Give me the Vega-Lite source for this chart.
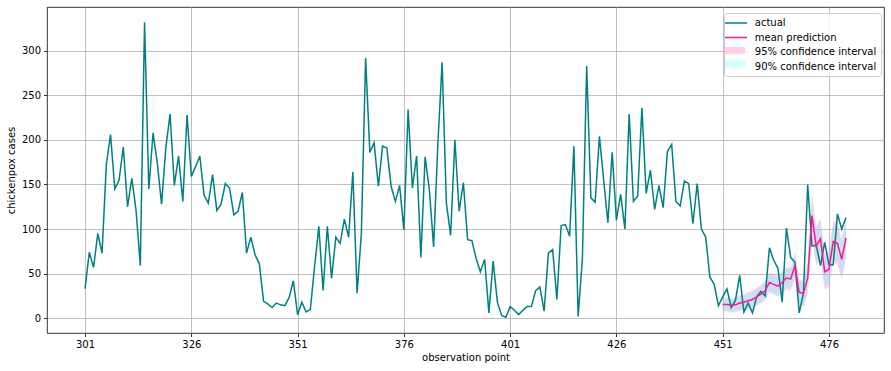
{
  "$schema": "https://vega.github.io/schema/vega-lite/v6.json",
  "autosize": {"type": "none"},
  "padding": {"left": 47, "top": 7, "right": 7, "bottom": 38},
  "width": 837,
  "height": 326,
  "background": "white",
  "datasets": {
    "actual": [
      {"t":301,"v":33},{"t":302,"v":74},{"t":303,"v":57},{"t":304,"v":95},{"t":305,"v":73},{"t":306,"v":172},{"t":307,"v":206},{"t":308,"v":145},{"t":309,"v":155},{"t":310,"v":192},
      {"t":311,"v":125},{"t":312,"v":157},{"t":313,"v":121},{"t":314,"v":59},{"t":315,"v":332},{"t":316,"v":145},{"t":317,"v":208},{"t":318,"v":174},{"t":319,"v":128},{"t":320,"v":191},
      {"t":321,"v":229},{"t":322,"v":149},{"t":323,"v":182},{"t":324,"v":131},{"t":325,"v":228},{"t":326,"v":159},{"t":327,"v":170},{"t":328,"v":182},{"t":329,"v":138},{"t":330,"v":129},
      {"t":331,"v":161},{"t":332,"v":121},{"t":333,"v":128},{"t":334,"v":151},{"t":335,"v":146},{"t":336,"v":116},{"t":337,"v":120},{"t":338,"v":141},{"t":339,"v":73},{"t":340,"v":91},
      {"t":341,"v":71},{"t":342,"v":61},{"t":343,"v":19},{"t":344,"v":16},{"t":345,"v":12},{"t":346,"v":17},{"t":347,"v":15},{"t":348,"v":14},{"t":349,"v":23},{"t":350,"v":42},
      {"t":351,"v":4},{"t":352,"v":18},{"t":353,"v":7},{"t":354,"v":10},{"t":355,"v":58},{"t":356,"v":103},{"t":357,"v":31},{"t":358,"v":103},{"t":359,"v":45},{"t":360,"v":91},
      {"t":361,"v":84},{"t":362,"v":111},{"t":363,"v":91},{"t":364,"v":164},{"t":365,"v":28},{"t":366,"v":95},{"t":367,"v":292},{"t":368,"v":186},{"t":369,"v":197},{"t":370,"v":148},
      {"t":371,"v":193},{"t":372,"v":191},{"t":373,"v":148},{"t":374,"v":131},{"t":375,"v":149},{"t":376,"v":99},{"t":377,"v":234},{"t":378,"v":146},{"t":379,"v":182},{"t":380,"v":68},
      {"t":381,"v":181},{"t":382,"v":144},{"t":383,"v":80},{"t":384,"v":196},{"t":385,"v":287},{"t":386,"v":129},{"t":387,"v":93},{"t":388,"v":200},{"t":389,"v":120},{"t":390,"v":152},
      {"t":391,"v":88},{"t":392,"v":87},{"t":393,"v":67},{"t":394,"v":52},{"t":395,"v":66},{"t":396,"v":6},{"t":397,"v":64},{"t":398,"v":18},{"t":399,"v":3},{"t":400,"v":1},
      {"t":401,"v":13},{"t":402,"v":9},{"t":403,"v":4},{"t":404,"v":9},{"t":405,"v":13},{"t":406,"v":13},{"t":407,"v":31},{"t":408,"v":35},{"t":409,"v":8},{"t":410,"v":73},
      {"t":411,"v":77},{"t":412,"v":21},{"t":413,"v":104},{"t":414,"v":105},{"t":415,"v":92},{"t":416,"v":193},{"t":417,"v":2},{"t":418,"v":67},{"t":419,"v":283},{"t":420,"v":135},
      {"t":421,"v":130},{"t":422,"v":204},{"t":423,"v":155},{"t":424,"v":107},{"t":425,"v":186},{"t":426,"v":110},{"t":427,"v":139},{"t":428,"v":100},{"t":429,"v":229},{"t":430,"v":131},
      {"t":431,"v":137},{"t":432,"v":236},{"t":433,"v":140},{"t":434,"v":166},{"t":435,"v":122},{"t":436,"v":149},{"t":437,"v":124},{"t":438,"v":187},{"t":439,"v":195},{"t":440,"v":131},
      {"t":441,"v":126},{"t":442,"v":154},{"t":443,"v":151},{"t":444,"v":106},{"t":445,"v":151},{"t":446,"v":100},{"t":447,"v":91},{"t":448,"v":46},{"t":449,"v":38},{"t":450,"v":14},
      {"t":451,"v":24},{"t":452,"v":33},{"t":453,"v":12},{"t":454,"v":20},{"t":455,"v":48},{"t":456,"v":7},{"t":457,"v":17},{"t":458,"v":6},{"t":459,"v":24},{"t":460,"v":30},
      {"t":461,"v":25},{"t":462,"v":79},{"t":463,"v":65},{"t":464,"v":56},{"t":465,"v":18},{"t":466,"v":101},{"t":467,"v":68},{"t":468,"v":63},{"t":469,"v":6},{"t":470,"v":28},
      {"t":471,"v":150},{"t":472,"v":81},{"t":473,"v":82},{"t":474,"v":59},{"t":475,"v":85},{"t":476,"v":60},{"t":477,"v":60},{"t":478,"v":117},{"t":479,"v":100},{"t":480,"v":113}
    ],
    "pred": [
      {"t":451,"m":15.3,"lo95":7.8,"hi95":22.8,"lo90":9.0,"hi90":21.6},
      {"t":452,"m":15.5,"lo95":7.5,"hi95":23.5,"lo90":8.8,"hi90":22.2},
      {"t":453,"m":14.5,"lo95":6.5,"hi95":22.5,"lo90":7.8,"hi90":21.2},
      {"t":454,"m":15,"lo95":6.5,"hi95":23.5,"lo90":7.9,"hi90":22.1},
      {"t":455,"m":17,"lo95":8,"hi95":26,"lo90":9.4,"hi90":24.6},
      {"t":456,"m":18,"lo95":9,"hi95":27,"lo90":10.4,"hi90":25.6},
      {"t":457,"m":19.5,"lo95":10,"hi95":29,"lo90":11.5,"hi90":27.5},
      {"t":458,"m":21,"lo95":11,"hi95":31,"lo90":12.6,"hi90":29.4},
      {"t":459,"m":24,"lo95":14,"hi95":34,"lo90":15.6,"hi90":32.4},
      {"t":460,"m":27,"lo95":16.5,"hi95":37.5,"lo90":18.2,"hi90":35.8},
      {"t":461,"m":31,"lo95":20,"hi95":42,"lo90":21.8,"hi90":40.2},
      {"t":462,"m":40,"lo95":29,"hi95":51,"lo90":30.8,"hi90":49.2},
      {"t":463,"m":38,"lo95":26.5,"hi95":49.5,"lo90":28.3,"hi90":47.7},
      {"t":464,"m":36,"lo95":24,"hi95":48,"lo90":26,"hi90":46},
      {"t":465,"m":40,"lo95":28,"hi95":52,"lo90":30,"hi90":50},
      {"t":466,"m":45,"lo95":32.5,"hi95":57.5,"lo90":34.5,"hi90":55.5},
      {"t":467,"m":44,"lo95":31,"hi95":57,"lo90":33.1,"hi90":54.9},
      {"t":468,"m":59,"lo95":44,"hi95":74,"lo90":46.4,"hi90":71.6},
      {"t":469,"m":29,"lo95":15,"hi95":43,"lo90":17.2,"hi90":40.8},
      {"t":470,"m":28,"lo95":13,"hi95":43,"lo90":15.4,"hi90":40.6},
      {"t":471,"m":45,"lo95":27,"hi95":63,"lo90":30,"hi90":60},
      {"t":472,"m":115,"lo95":90,"hi95":140,"lo90":94,"hi90":136},
      {"t":473,"m":81,"lo95":59,"hi95":103,"lo90":62.5,"hi90":99.5},
      {"t":474,"m":89,"lo95":66,"hi95":112,"lo90":69.7,"hi90":108.3},
      {"t":475,"m":52,"lo95":32,"hi95":72,"lo90":35.2,"hi90":68.8},
      {"t":476,"m":55,"lo95":35,"hi95":75,"lo90":38.2,"hi90":71.8},
      {"t":477,"m":86,"lo95":63,"hi95":109,"lo90":66.7,"hi90":105.3},
      {"t":478,"m":84,"lo95":60,"hi95":108,"lo90":64,"hi90":104},
      {"t":479,"m":66,"lo95":44,"hi95":88,"lo90":47.5,"hi90":84.5},
      {"t":480,"m":90,"lo95":66,"hi95":114,"lo90":70,"hi90":110}
    ]
  },
  "config": {
    "view": {"stroke": "black", "strokeWidth": 0.8},
    "font": "DejaVu Sans",
    "axis": {
      "grid": true, "gridColor": "#b0b0b0", "gridWidth": 0.8,
      "domain": false,
      "tickColor": "black", "tickWidth": 0.8, "tickSize": 3.5,
      "labelFont": "DejaVu Sans", "labelFontSize": 10, "labelColor": "black", "labelPadding": 3,
      "titleFont": "DejaVu Sans", "titleFontSize": 10, "titleFontWeight": "normal", "titleColor": "black"
    },
    "legend": {
      "labelFont": "DejaVu Sans", "labelFontSize": 10, "labelColor": "black",
      "symbolSize": 100, "rowPadding": 3.5, "padding": 4,
      "symbolOffset": 2, "labelOffset": 12.8
    }
  },
  "layer": [
    {
      "data": {"name": "pred"},
      "mark": {"type": "area", "fillOpacity": 0.3, "strokeWidth": 1},
      "encoding": {
        "x": {"field": "t", "type": "quantitative",
              "scale": {"domain": [292.05, 488.95], "nice": false, "zero": false},
              "axis": {"values": [301,326,351,376,401,426,451,476], "title": "observation point", "titlePadding": 3, "labelFlush": false, "labelOverlap": false}},
        "y": {"field": "lo95", "type": "quantitative",
              "scale": {"domain": [-16.6, 349.1], "nice": false, "zero": false},
              "axis": {"values": [0,50,100,150,200,250,300], "title": "chickenpox cases", "titlePadding": 5, "labelFlush": false, "labelOverlap": false}},
        "y2": {"field": "hi95"},
        "fill": {
          "datum": "95% confidence interval",
          "type": "nominal",
          "scale": {
            "domain": ["95% confidence interval", "90% confidence interval"],
            "range": ["#ff69b4", "#55ffff"]
          },
          "legend": {
            "title": null,
            "orient": "none",
            "legendX": 677,
            "legendY": 34.5,
            "strokeColor": "transparent",
            "fillColor": "transparent",
            "symbolType": "M-2,-0.7H2V0.7H-2Z",
            "symbolStrokeWidth": 0,
            "symbolOpacity": 0.3,
            "labelExpr": "''",
            "zindex": 3
          }
        },
        "stroke": {
          "datum": "95% confidence interval",
          "type": "nominal",
          "scale": {
            "domain": ["actual", "mean prediction", "95% confidence interval", "90% confidence interval"],
            "range": ["#008080", "#ff1493", "transparent", "transparent"]
          },
          "legend": {
            "title": null,
            "orient": "none",
            "legendX": 677,
            "legendY": 6,
            "cornerRadius": 3,
            "strokeColor": "#cccccc",
            "fillColor": "rgba(255,255,255,0.8)",
            "symbolType": "M-2.2,0H2.2",
            "symbolStrokeWidth": 1.5,
            "zindex": 1
          }
        }
      }
    },
    {
      "data": {"name": "pred"},
      "mark": {"type": "area", "fillOpacity": 0.3, "strokeWidth": 1},
      "encoding": {
        "x": {"field": "t", "type": "quantitative"},
        "y": {"field": "lo90", "type": "quantitative"},
        "y2": {"field": "hi90"},
        "fill": {"datum": "90% confidence interval", "type": "nominal"},
        "stroke": {"datum": "90% confidence interval", "type": "nominal"}
      }
    },
    {
      "data": {"name": "actual"},
      "mark": {"type": "line", "strokeWidth": 1.5},
      "encoding": {
        "x": {"field": "t", "type": "quantitative"},
        "y": {"field": "v", "type": "quantitative"},
        "stroke": {"datum": "actual", "type": "nominal"}
      }
    },
    {
      "data": {"name": "pred"},
      "mark": {"type": "line", "strokeWidth": 1.5},
      "encoding": {
        "x": {"field": "t", "type": "quantitative"},
        "y": {"field": "m", "type": "quantitative"},
        "stroke": {"datum": "mean prediction", "type": "nominal"}
      }
    }
  ]
}
